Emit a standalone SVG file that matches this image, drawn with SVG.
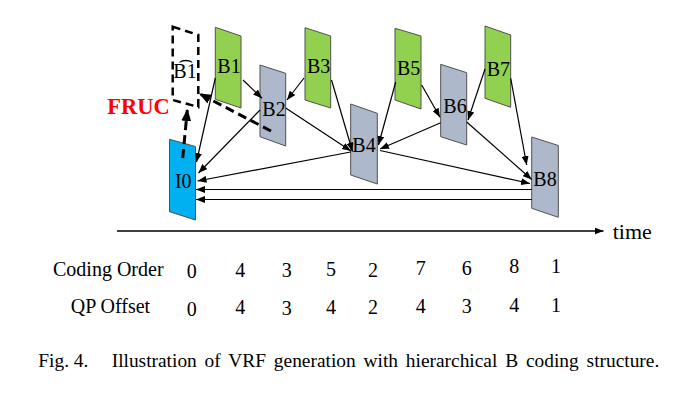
<svg xmlns="http://www.w3.org/2000/svg" width="683" height="398" viewBox="0 0 683 398">
<style>
.fr{stroke:#505050;stroke-width:1}
.g{fill:#92D050}
.s{fill:#ADB9CA}
.b{fill:#00B0F0}
.lb{font-family:"Liberation Serif","DejaVu Serif",serif;font-size:20px;fill:#000;text-anchor:middle}
.tx{font-family:"Liberation Serif","DejaVu Serif",serif;font-size:20px;fill:#000}
.num{font-family:"Liberation Serif","DejaVu Serif",serif;font-size:20px;fill:#000;text-anchor:middle}
.ar{stroke:#000;stroke-width:1.2;fill:none;marker-end:url(#ah)}
.da{stroke:#000;stroke-width:3;fill:none;stroke-dasharray:9,5;marker-end:url(#dh)}
</style>
<defs>
<marker id="ah" markerUnits="userSpaceOnUse" markerWidth="9" markerHeight="7" refX="9" refY="3.5" orient="auto"><path d="M0,0 L9,3.5 L0,7 z" fill="#000"/></marker>
<marker id="dh" markerUnits="userSpaceOnUse" markerWidth="12" markerHeight="10" refX="11" refY="5" orient="auto"><path d="M0,0 L12,5 L0,10 z" fill="#000"/></marker>
</defs>
<rect width="683" height="398" fill="#fff"/>

<g id="B1hat">
<path d="M172.7,26.7 L198.3,35 L198.3,107 L172.7,100 Z" fill="none" stroke="#000" stroke-width="2.5" stroke-dasharray="8,5"/>
<text class="lb" x="185" y="78">B͡1</text>
</g>
<g id="B1">
<path class="fr g" d="M215.3,27.3 L241,36 L241,108 L215.3,99.3 Z"/>
<text class="lb" x="229" y="73">B1</text>
</g>
<g id="B2">
<path class="fr s" d="M260,65 L285.7,73.3 L285.7,146 L260,136.7 Z"/>
<text class="lb" x="274" y="116">B2</text>
</g>
<g id="B3">
<path class="fr g" d="M305,27.7 L330.7,36 L330.7,108 L305,100 Z"/>
<text class="lb" x="318.7" y="73.3">B3</text>
</g>
<g id="B4">
<path class="fr s" d="M350.7,104 L377.3,113.3 L377.3,184 L350.7,175 Z"/>
<text class="lb" x="364" y="151.7">B4</text>
</g>
<g id="B5">
<path class="fr g" d="M395,28.3 L421,36 L421,109 L395,100 Z"/>
<text class="lb" x="408.7" y="75">B5</text>
</g>
<g id="B6">
<path class="fr s" d="M440.7,64.3 L466.7,72.7 L466.7,145 L440.7,136.7 Z"/>
<text class="lb" x="455" y="113.3">B6</text>
</g>
<g id="B7">
<path class="fr g" d="M485,26 L510.7,35 L510.7,107.3 L485,98.3 Z"/>
<text class="lb" x="498.3" y="76">B7</text>
</g>
<g id="B8">
<path class="fr s" d="M531.7,137 L558.3,145.5 L558.3,217.3 L531.7,208.3 Z"/>
<text class="lb" x="545" y="186">B8</text>
</g>
<g id="I0">
<path class="fr b" d="M169.5,139.3 L195.5,146.5 L195.5,220 L169.5,211.7 Z"/>
<text class="lb" x="183.3" y="188.3">I0</text>
</g>

<g id="connectors">
<line class="ar" x1="215.3" y1="78" x2="196.5" y2="162"/>
<line class="ar" x1="243" y1="80" x2="262" y2="98.3"/>
<line class="ar" x1="304" y1="78" x2="287" y2="100"/>
<line class="ar" x1="260" y1="110" x2="198.5" y2="173"/>
<line class="ar" x1="285.7" y1="108" x2="351" y2="151"/>
<line class="ar" x1="331.5" y1="80" x2="352.5" y2="151.5"/>
<line class="ar" x1="350.7" y1="152" x2="197.5" y2="181"/>
<line class="ar" x1="395.7" y1="82" x2="378.5" y2="145"/>
<line class="ar" x1="421.7" y1="85" x2="440" y2="117.3"/>
<line class="ar" x1="485" y1="69" x2="468" y2="120"/>
<line class="ar" x1="440.7" y1="122.7" x2="380" y2="149"/>
<line class="ar" x1="510.7" y1="78.3" x2="526.7" y2="165"/>
<line class="ar" x1="466.7" y1="122" x2="531.7" y2="179.5"/>
<line class="ar" x1="380" y1="150.5" x2="530" y2="183.5"/>
<line class="ar" x1="531.7" y1="189.5" x2="196" y2="189.5"/>
<line class="ar" x1="531.7" y1="199.5" x2="196" y2="199.5"/>
<line class="da" x1="182.7" y1="158" x2="187.3" y2="110"/>
<line class="da" x1="271" y1="131" x2="200" y2="94"/>
<line class="ar" x1="117" y1="231" x2="603.5" y2="231" style="stroke-width:1.3"/>
</g>

<text x="107.3" y="114" font-family="Liberation Serif,serif" font-size="22.5" font-weight="bold" fill="#FF0000">FRUC</text>
<text class="tx" x="612.7" y="239.3" style="font-size:22px">time</text>

<g id="table">
<text class="tx" x="53" y="276">Coding Order</text>
<text class="tx" x="70.7" y="313.3">QP Offset</text>
<text class="num" x="191.7" y="278.3">0</text>
<text class="num" x="240.2" y="276.5">4</text>
<text class="num" x="286.8" y="277">3</text>
<text class="num" x="330.9" y="275.5">5</text>
<text class="num" x="373" y="276.5">2</text>
<text class="num" x="420.8" y="275">7</text>
<text class="num" x="466.7" y="275">6</text>
<text class="num" x="514.3" y="273.3">8</text>
<text class="num" x="556" y="273.3">1</text>
<text class="num" x="191.7" y="316">0</text>
<text class="num" x="240.2" y="314">4</text>
<text class="num" x="286.8" y="315">3</text>
<text class="num" x="330.9" y="314">4</text>
<text class="num" x="373" y="314">2</text>
<text class="num" x="420.8" y="313">4</text>
<text class="num" x="466.7" y="313">3</text>
<text class="num" x="514.3" y="311.7">4</text>
<text class="num" x="556" y="311.7">1</text>
</g>

<text class="tx" x="38.3" y="366.7" style="font-size:19.4px">Fig. 4.</text>
<text class="tx" x="111.7" y="366.7" style="font-size:19.4px" word-spacing="3">Illustration of VRF generation with hierarchical B coding structure.</text>
</svg>
